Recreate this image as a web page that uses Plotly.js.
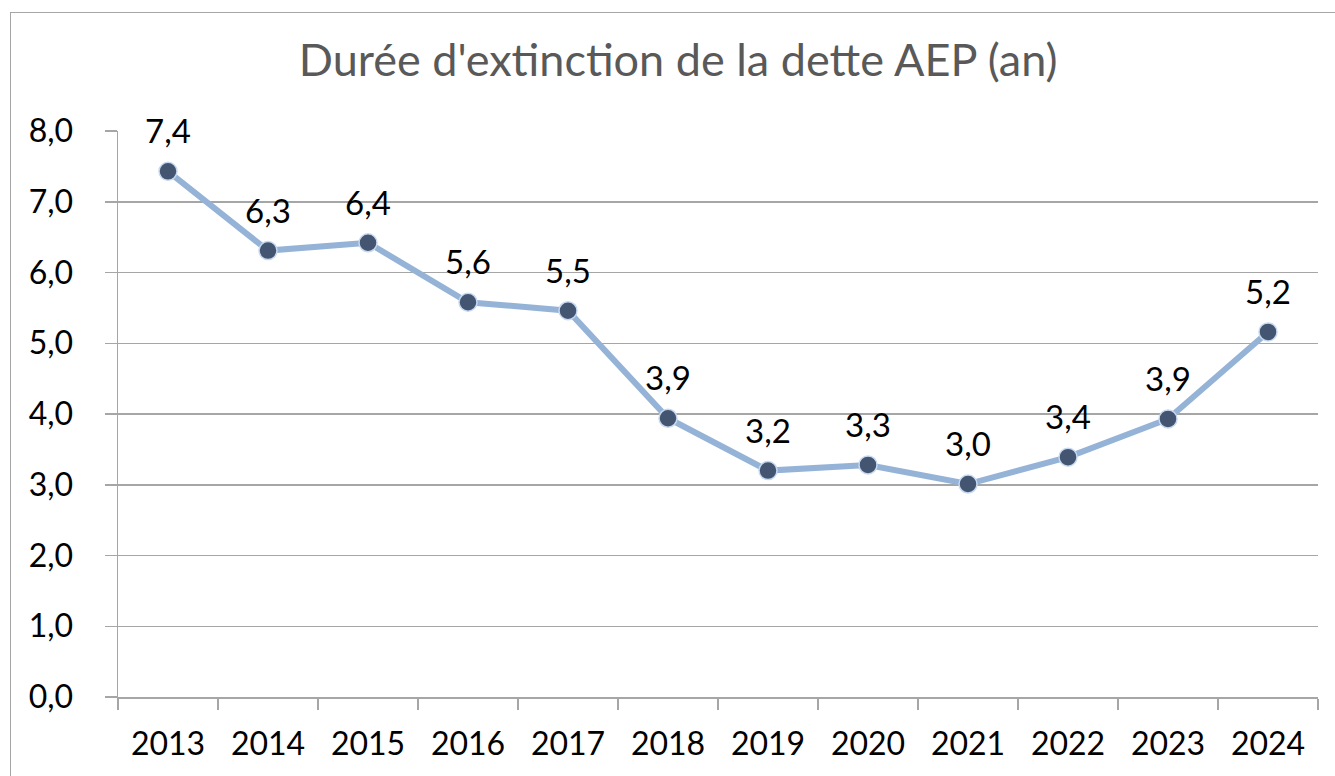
<!DOCTYPE html>
<html>
<head>
<meta charset="utf-8">
<script src="https://cdn.plot.ly/plotly-3.0.1.min.js"></script>
<style>
html,body{margin:0;padding:0;background:#fff;overflow:hidden;}
#frame{position:absolute;left:10px;top:12px;width:1400px;height:900px;border:1.5px solid #a6a6a6;}
#chart{position:absolute;left:0;top:0;width:1335px;height:776px;}
</style>
</head>
<body>
<div id="frame"></div>
<div id="chart"></div>
<script>
const years = ['2013','2014','2015','2016','2017','2018','2019','2020','2021','2022','2023','2024'];
const dureeExtinction = [7.43, 6.31, 6.42, 5.58, 5.46, 3.94, 3.20, 3.28, 3.01, 3.39, 3.93, 5.16];
const yTicks = [0,1,2,3,4,5,6,7,8];
const chartTitle = "Durée d'extinction de la dette AEP (an)";

const FONT = 'Lato, "Open Sans", sans-serif';

function fmt(v){ return v.toFixed(1).replace('.', ','); }

const trace = {
  type: 'scatter',
  mode: 'lines+markers',
  x: years,
  y: dureeExtinction,
  line: {color: '#95B3D7', width: 6},
  marker: {size: 18, color: '#435570', line: {color: '#C6D9F1', width: 1.5}},
  hoverinfo: 'x+y',
  cliponaxis: false
};

// category index i corresponds to years[i] on the category axis
const labels = years.map((yr, i) => ({
  x: i,
  y: dureeExtinction[i],
  xref: 'x', yref: 'y',
  text: fmt(dureeExtinction[i]),
  showarrow: false,
  xanchor: 'center',
  yanchor: 'bottom',
  yshift: 19,
  font: {family: FONT, size: 33, color: '#000000'}
}));

const layout = {
  width: 1335,
  height: 776,
  paper_bgcolor: 'rgba(0,0,0,0)',
  plot_bgcolor: 'rgba(0,0,0,0)',
  separators: ', ',
  margin: {l: 118, r: 17, t: 131, b: 78.5, pad: 0},
  showlegend: false,
  annotations: labels,
  title: {
    text: chartTitle,
    font: {family: FONT, size: 45, color: '#595959'},
    x: 0.508, xanchor: 'center',
    y: 0.922, yanchor: 'middle'
  },
  xaxis: {
    type: 'category',
    range: [-0.5, 11.5],
    showgrid: false,
    showline: true,
    linecolor: '#a6a6a6',
    linewidth: 1.5,
    ticks: 'outside',
    tickson: 'boundaries',
    ticklen: 11,
    tickcolor: '#a6a6a6',
    tickwidth: 1.5,
    tickfont: {family: FONT, size: 32, color: '#000000'},
    ticklabelstandoff: 18,
    zeroline: false
  },
  yaxis: {
    range: [0, 8],
    tickvals: yTicks,
    tickformat: '.1f',
    showgrid: true,
    gridcolor: '#a6a6a6',
    gridwidth: 1.5,
    showline: true,
    linecolor: '#a6a6a6',
    linewidth: 1.5,
    ticks: 'outside',
    ticklen: 12,
    tickcolor: '#a6a6a6',
    tickwidth: 1.5,
    tickfont: {family: FONT, size: 32, color: '#000000'},
    ticklabelstandoff: 25,
    zeroline: false
  }
};

Plotly.newPlot('chart', [trace], layout, {displayModeBar: false, staticPlot: true});
</script>
</body>
</html>
